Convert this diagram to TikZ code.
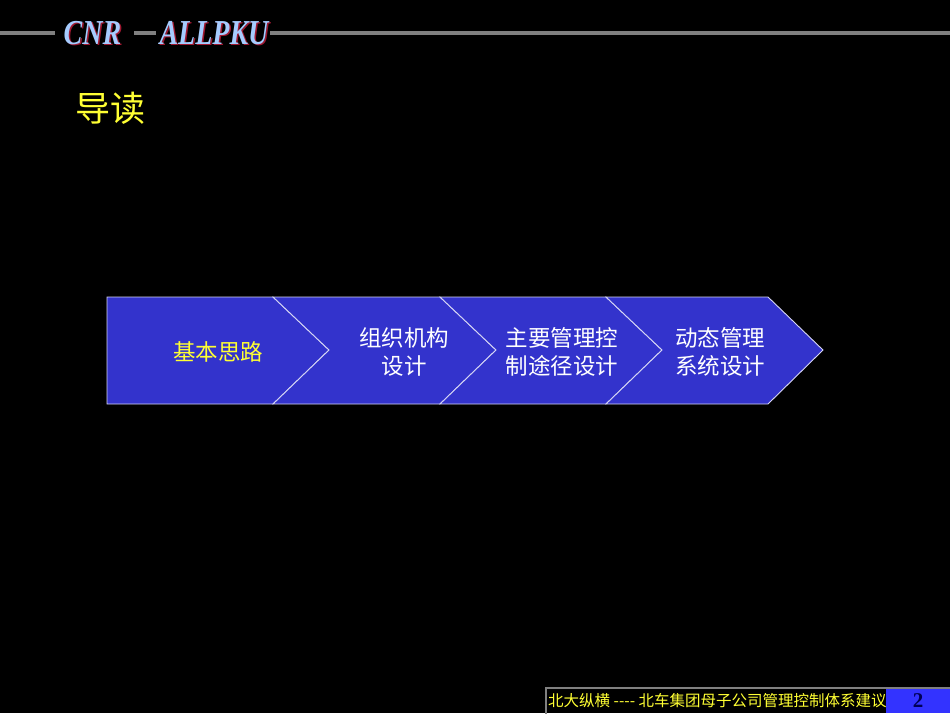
\documentclass[tikz,border=0pt]{standalone}
\usepackage{fontspec}
\setmainfont{Liberation Serif}
\newfontfamily\cjk{Noto Sans CJK SC}
\definecolor{chevblue}{HTML}{3333CC}
\definecolor{pageblue}{HTML}{3333FF}
\definecolor{logoblue}{HTML}{A6CCFF}
\definecolor{logored}{HTML}{A01830}
\definecolor{titleyellow}{HTML}{FFFF33}
\definecolor{pagenavy}{HTML}{000055}

\begin{document}
\begin{tikzpicture}
[x=1pt, y=-1pt, inner sep=0pt,
chev/.style={fill=chevblue, draw=white!80!chevblue, line width=0.9pt},
rule/.style={draw=gray, line width=4pt},
logo/.style={font=\fontsize{35}{35}\selectfont\bfseries\itshape, text=logoblue, xscale=0.8, transform shape},
logos/.style={font=\fontsize{35}{35}\selectfont\bfseries\itshape, text=logored, xscale=0.8, transform shape},
steplbl/.style={font=\cjk\fontsize{22.5}{28}\selectfont, align=center, text=white},
foot/.style={font=\cjk\fontsize{15.5}{16}\selectfont, text=titleyellow}]
\fill[black] (0,0) rectangle (950,713);
\useasboundingbox (0,0) rectangle (950,713);

\draw[rule] (0,33) to (55,33);
\draw[rule] (134,33) to (156,33);
\draw[rule] (270,33) to (950,33);
\draw (94,34.5) node[logos] (cnrs) {CNR};
\draw (92.5,33) node[logo] (cnr) {CNR};
\draw (215.5,34.5) node[logos] (pkus) {ALLPKU};
\draw (214,33) node[logo] (pku) {ALLPKU};

\draw (110,108) node[font=\cjk\fontsize{35}{35}\selectfont, text=titleyellow] (title) {导读};

\draw[chev] (107,297) -- (273,297) -- (329,350) -- (273,404) -- (107,404) -- cycle;
\draw[chev] (273,297) -- (440,297) -- (496,350) -- (440,404) -- (273,404) -- (329,350) -- cycle;
\draw[chev] (440,297) -- (606,297) -- (662,350) -- (606,404) -- (440,404) -- (496,350) -- cycle;
\draw[chev] (606,297) -- (768,297) -- (823,350) -- (768,404) -- (606,404) -- (662,350) -- cycle;

\draw (218,352) node[steplbl, text=titleyellow] (s1) {基本思路};
\draw (404,352) node[steplbl] (s2) {组织机构\\设计};
\draw (562,352) node[steplbl] (s3) {主要管理控\\制途径设计};
\draw (720,352) node[steplbl] (s4) {动态管理\\系统设计};

\draw[gray, line width=1.2pt] (546,714) -- (546,688) -- (951,688);
\fill[pageblue] (886,688.6) rectangle (950,713);
\draw (548,701) node[foot, anchor=west] (foottext) {北大纵横 ---- 北车集团母子公司管理控制体系建议};
\draw (918,701) node[font=\fontsize{21}{21}\selectfont\bfseries, text=pagenavy] (page) {2};
\end{tikzpicture}
\end{document}
